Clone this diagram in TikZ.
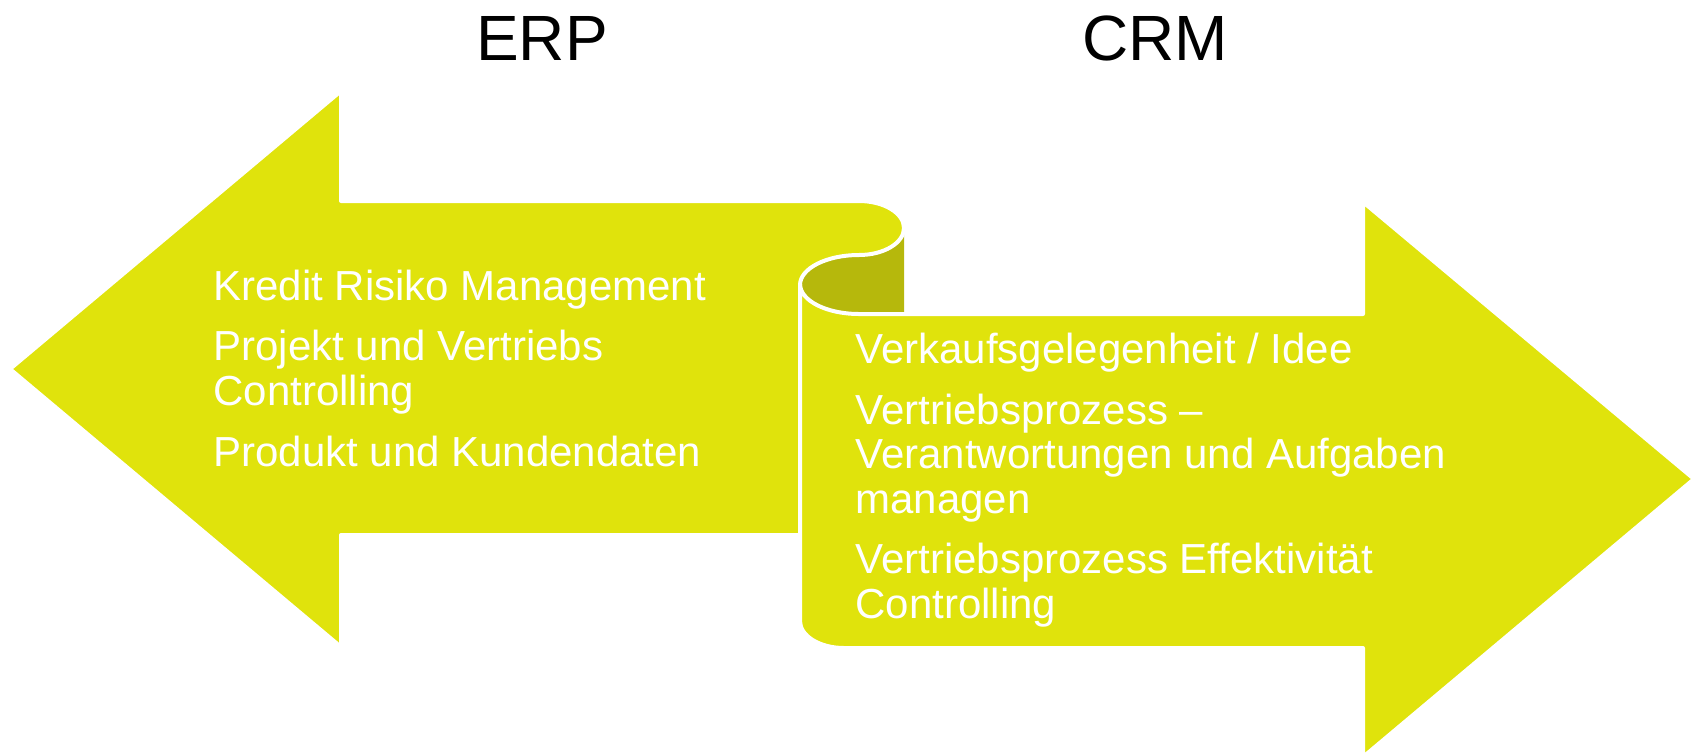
\documentclass[tikz,border=0pt]{standalone}
\usepackage{fontspec}
\setmainfont{Liberation Sans}
\definecolor{lime}{RGB}{224,227,12}
\definecolor{limedark}{RGB}{182,184,12}
\begin{document}
\begin{tikzpicture}[x=0.2mm, y=-0.2mm,
    band/.style={fill=lime, draw=white, line width=0.8mm, line join=round},
    item/.style={anchor=base west, align=left, inner sep=0pt, text=white,
      font=\fontsize{23.9}{25.2}\selectfont},
    title/.style={anchor=base, inner sep=0pt, font=\fontsize{36.4}{40}\selectfont}]
    \useasboundingbox (0,0) rectangle (1691,754);

    % Rolled part behind the scroll
    \fill[limedark] (904,229) -- (904,314) -- (859,314)
        arc[start angle=90, end angle=270, x radius=59, y radius=30]
        arc[start angle=90, end angle=0, x radius=45, y radius=27] -- cycle;

    % Left arrow (ERP)
    \draw[band] (10,369) -- (341,91) -- (341,201) -- (859,201)
        arc[start angle=-90, end angle=90, x radius=45, y radius=27]
        arc[start angle=-90, end angle=-180, x radius=59, y radius=30]
        -- (800,535) -- (341,535) -- (341,647) -- cycle;

    % Right arrow (CRM)
    \draw[band] (800,284)
        arc[start angle=180, end angle=90, x radius=59, y radius=30]
        -- (1363,314) -- (1363,202) -- (1694,479) -- (1363,757) -- (1363,648) -- (844,648)
        arc[start angle=90, end angle=180, x radius=44, y radius=27] -- cycle;

    % Titles
    \node[title] (erp) at (542,60) {ERP};
    \node[title] (crm) at (1155,60) {CRM};

    % ERP items (multi-line nodes sit on their last baseline)
    \node[item] (erp1) at (213,300) {Kredit Risiko Management};
    \node[item] (erp2) at (213,405) {Projekt und Vertriebs\\Controlling};
    \node[item] (erp3) at (213,466) {Produkt und Kundendaten};

    % CRM items
    \node[item] (crm1) at (855,363) {Verkaufsgelegenheit / Idee};
    \node[item] (crm2) at (855,513) {Vertriebsprozess --\\Verantwortungen und Aufgaben\\managen};
    \node[item] (crm3) at (855,618) {Vertriebsprozess Effektivität\\Controlling};
\end{tikzpicture}
\end{document}
